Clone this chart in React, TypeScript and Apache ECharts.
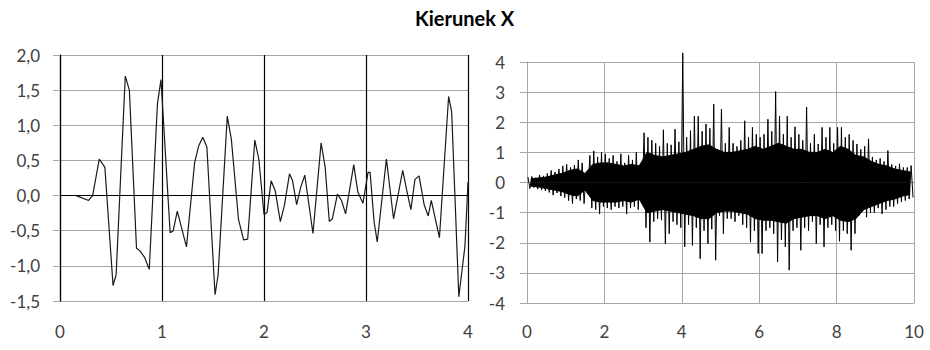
import React, { useEffect, useRef } from "react";
import * as echarts from "echarts";

// Left panel (0..4 s)
const leftX = [0.16,0.28,0.32,0.385,0.44,0.52,0.55,0.64,0.68,0.75,0.78,0.83,0.875,0.955,0.99,1.08,1.11,1.15,1.24,1.32,1.36,1.40,1.44,1.52,1.55,1.64,1.68,1.75,1.80,1.84,1.91,1.95,2.00,2.03,2.07,2.11,2.16,2.20,2.25,2.28,2.32,2.36,2.40,2.48,2.56,2.60,2.64,2.67,2.72,2.76,2.80,2.88,2.92,2.97,3.02,3.04,3.08,3.11,3.20,3.27,3.36,3.40,3.44,3.48,3.52,3.57,3.61,3.64,3.72,3.81,3.84,3.91,3.97,4.00];
const leftY = [0.0,-0.07,0.0,0.52,0.40,-1.28,-1.13,1.70,1.50,-0.75,-0.78,-0.88,-1.05,1.30,1.65,-0.53,-0.50,-0.22,-0.73,0.47,0.71,0.83,0.69,-1.41,-1.13,1.13,0.80,-0.34,-0.63,-0.62,0.79,0.51,-0.27,-0.24,0.21,0.07,-0.37,-0.14,0.31,0.21,-0.13,0.12,0.29,-0.54,0.75,0.40,-0.37,-0.33,0.02,-0.07,-0.26,0.44,0.05,-0.11,0.33,0.33,-0.38,-0.66,0.52,-0.33,0.36,0.07,-0.20,0.23,0.28,-0.13,-0.29,-0.07,-0.60,1.41,1.19,-1.44,-0.72,0.19];

// Right panel (0..10 s): per 0.1 s bin, estimated upper and lower spike extremes
const binWidth = 0.1;
const rightUpper = [
  0.18,0.2,0.16,0.25,0.22,
  0.3,0.4,0.35,0.45,0.55,
  0.6,0.5,0.58,0.75,0.65,
  0.28,0.9,1.05,0.85,1.0,
  0.95,0.8,0.9,0.7,0.95,
  0.65,0.9,0.75,1.0,0.6,
  1.65,1.5,1.4,1.3,1.2,
  1.75,1.3,1.25,1.77,1.35,
  4.3,1.5,1.72,2.2,2.2,
  1.7,1.94,1.8,2.6,1.1,
  2.44,1.3,1.83,1.3,1.2,
  1.4,2.05,1.5,1.83,1.6,
  1.5,1.6,2.1,1.7,3.02,
  2.2,1.6,2.2,1.5,1.85,
  1.6,1.4,2.5,1.3,1.6,
  1.28,1.83,1.5,1.83,1.3,
  1.83,1.83,1.5,1.6,1.4,
  1.28,1.1,1.2,1.45,0.85,
  0.75,0.8,0.7,1.06,0.6,
  0.55,0.62,0.5,0.5,0.56
];
const rightLower = [
  -0.2,-0.17,-0.22,-0.25,-0.28,
  -0.33,-0.42,-0.35,-0.45,-0.5,
  -0.6,-0.7,-0.55,-0.6,-0.7,
  -0.28,-0.85,-0.9,-1.05,-0.8,
  -0.85,-0.9,-0.8,-0.85,-0.8,
  -1.05,-0.85,-0.8,-0.9,-0.6,
  -1.5,-1.98,-1.3,-1.2,-1.25,
  -2.03,-1.7,-1.3,-1.4,-1.5,
  -2.14,-1.4,-2.09,-1.5,-2.53,
  -1.6,-2.03,-1.55,-2.58,-1.1,
  -1.7,-1.2,-1.2,-1.3,-1.1,
  -1.4,-1.5,-1.98,-1.6,-2.36,
  -2.36,-1.6,-1.5,-1.7,-2.64,
  -1.9,-2.14,-2.91,-1.6,-1.5,
  -2.25,-1.5,-1.6,-1.3,-2.03,
  -1.4,-2.14,-1.5,-1.4,-1.6,
  -1.95,-1.6,-1.7,-2.25,-1.7,
  -1.1,-0.95,-1.15,-1.0,-1.0,
  -0.85,-1.04,-0.9,-0.8,-0.8,
  -0.7,-0.65,-0.6,-0.55,-0.5
];
// Solid core of the signal, per 0.2 s segment
const coreWidth = 0.2;
const coreUpper = [
  0.12,0.15,0.18,0.25,0.3,
  0.4,0.45,0.3,0.6,0.65,
  0.65,0.6,0.55,0.6,0.55,
  1.0,0.9,0.85,0.9,0.95,
  1.0,1.1,1.2,1.25,1.1,
  1.0,1.0,1.05,1.1,1.2,
  1.1,1.2,1.3,1.2,1.1,
  1.1,1.0,1.0,1.1,1.0,
  1.2,1.1,0.9,0.85,0.7,
  0.6,0.55,0.45,0.4,0.35
];
const coreLower = [
  -0.12,-0.15,-0.2,-0.25,-0.3,
  -0.4,-0.45,-0.25,-0.6,-0.65,
  -0.65,-0.65,-0.6,-0.65,-0.55,
  -1.0,-0.95,-0.9,-0.95,-1.0,
  -1.05,-1.1,-1.2,-1.2,-1.0,
  -0.95,-0.95,-1.0,-1.05,-1.2,
  -1.25,-1.25,-1.3,-1.35,-1.2,
  -1.15,-1.1,-1.1,-1.2,-1.1,
  -1.25,-1.3,-1.2,-0.9,-0.8,
  -0.7,-0.6,-0.55,-0.45,-0.4
];

const titleText = "Kierunek X";

const FONT = "Lato, 'Open Sans', sans-serif";
const LABEL_COLOR = "#404040";
const GRID_GRAY = "#a6a6a6";

export default function App() {
  const ref = useRef<HTMLDivElement>(null);

  useEffect(() => {
    if (!ref.current) return;
    const chart = echarts.init(ref.current, undefined, { renderer: "svg" });

    const leftData = leftX.map((x, i) => [x, leftY[i]]);
    const rightData: number[][] = [];
    rightUpper.forEach((u, i) => {
      rightData.push([i * binWidth + binWidth * 0.25, u]);
      rightData.push([i * binWidth + binWidth * 0.75, rightLower[i]]);
    });
    const coreUpData = coreUpper.map((v, i) => [i * coreWidth + coreWidth / 2, v]);
    const coreLowData = coreLower.map((v, i) => [i * coreWidth + coreWidth / 2, v]);

    const labelStyle = {
      fontFamily: FONT,
      fontSize: 17,
      color: LABEL_COLOR,
    };

    const coreSeries = (data: number[][]) => ({
      type: "line",
      xAxisIndex: 1,
      yAxisIndex: 1,
      data,
      showSymbol: false,
      lineStyle: { color: "#000", width: 1 },
      areaStyle: { color: "#000", opacity: 1 },
      z: 2,
    });

    chart.setOption({
      animation: false,
      backgroundColor: "#ffffff",
      title: {
        text: titleText,
        left: 410,
        top: 3,
        textStyle: { fontFamily: FONT, fontSize: 20, fontWeight: "bold", color: "#000" },
      },
      grid: [
        { left: 60, top: 55, width: 408, height: 246 },
        { left: 527, top: 62, width: 387, height: 241 },
      ],
      xAxis: [
        {
          type: "value",
          gridIndex: 0,
          min: 0,
          max: 4,
          interval: 1,
          axisLine: { show: false, onZero: false },
          axisTick: { show: false },
          axisLabel: { ...labelStyle, margin: 22 },
          splitLine: { show: true, lineStyle: { color: "#000", width: 1.2 } },
        },
        {
          type: "value",
          gridIndex: 1,
          min: 0,
          max: 10,
          interval: 2,
          axisLine: { show: true, onZero: false, lineStyle: { color: GRID_GRAY } },
          axisTick: { show: false },
          axisLabel: { ...labelStyle, margin: 20 },
          splitLine: { show: true, lineStyle: { color: GRID_GRAY, width: 1 } },
        },
      ],
      yAxis: [
        {
          type: "value",
          gridIndex: 0,
          min: -1.5,
          max: 2,
          interval: 0.5,
          axisLine: { show: true, lineStyle: { color: "#000", width: 1.2 } },
          axisTick: { show: true, length: 7, lineStyle: { color: GRID_GRAY } },
          axisLabel: {
            ...labelStyle,
            margin: 20,
            formatter: (v: number) => v.toFixed(1).replace(".", ","),
          },
          splitLine: { show: true, lineStyle: { color: GRID_GRAY, width: 1 } },
        },
        {
          type: "value",
          gridIndex: 1,
          min: -4,
          max: 4,
          interval: 1,
          axisLine: { show: true, lineStyle: { color: GRID_GRAY } },
          axisTick: { show: true, length: 7, lineStyle: { color: GRID_GRAY } },
          axisLabel: { ...labelStyle, margin: 22 },
          splitLine: { show: true, lineStyle: { color: GRID_GRAY, width: 1 } },
        },
      ],
      series: [
        {
          type: "line",
          xAxisIndex: 0,
          yAxisIndex: 0,
          data: leftData,
          showSymbol: false,
          lineStyle: { color: "#1a1a1a", width: 1.2 },
          markLine: {
            silent: true,
            symbol: ["none", "none"],
            label: { show: false },
            lineStyle: { color: "#000", type: "solid", width: 1.2 },
            data: [{ yAxis: 0 }],
          },
          z: 3,
        },
        coreSeries(coreUpData),
        coreSeries(coreLowData),
        {
          type: "line",
          xAxisIndex: 1,
          yAxisIndex: 1,
          data: rightData,
          showSymbol: false,
          clip: false,
          lineStyle: { color: "#000", width: 1 },
          z: 3,
        },
      ],
    });

    return () => chart.dispose();
  }, []);

  return (
    <div
      ref={ref}
      style={{ position: "fixed", left: 0, top: 0, width: 930, height: 350 }}
    />
  );
}
